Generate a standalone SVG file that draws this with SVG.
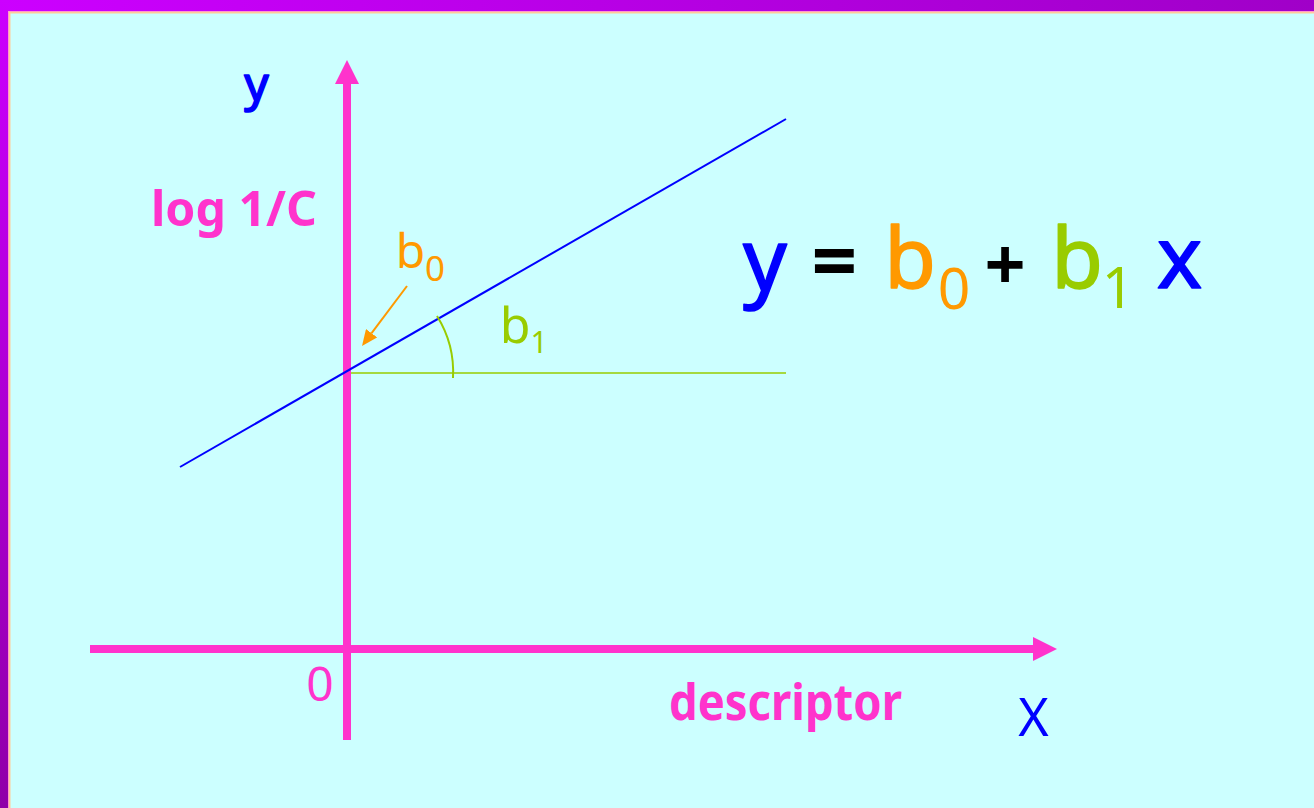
<svg xmlns="http://www.w3.org/2000/svg" width="1314" height="808" viewBox="0 0 1314 808">
<defs>
<linearGradient id="topband" x1="0" y1="0" x2="1" y2="0">
<stop offset="0" stop-color="#CC00FF"/>
<stop offset="1" stop-color="#A000C8"/>
</linearGradient>
<linearGradient id="leftband" x1="0" y1="0" x2="0" y2="1">
<stop offset="0" stop-color="#CC00FF"/>
<stop offset="1" stop-color="#9000A8"/>
</linearGradient>
<marker id="axisHead" viewBox="0 -12 24 24" refX="0" refY="0" markerWidth="24" markerHeight="24" markerUnits="userSpaceOnUse" orient="auto">
<path d="M0,-12 L24,0 L0,12 z" fill="#FF33CC"/>
</marker>
<marker id="orangeHead" viewBox="0 -7 16 14" refX="0" refY="0" markerWidth="16" markerHeight="14" markerUnits="userSpaceOnUse" orient="auto">
<path d="M0,-7 L16,0 L0,7 z" fill="#FF9900"/>
</marker>
</defs>
<style>
text { font-family: "Noto Sans", "Open Sans", "DejaVu Sans", sans-serif; }
.pink { fill: #FF33CC; }
.blue { fill: #0000FF; }
.orange { fill: #FF9900; }
.green { fill: #99CC00; }
.black { fill: #000000; }
.bold { font-weight: bold; }
.mid { text-anchor: middle; }
.thick { stroke-width: 1.6; stroke-linejoin: round; }
.blue.thick { stroke: #0000FF; }
.orange.thick { stroke: #FF9900; }
.green.thick { stroke: #99CC00; }
.axis { stroke: #FF33CC; stroke-width: 8; fill: none; }
</style>

<!-- frame -->
<rect x="0" y="0" width="1314" height="808" fill="#CCFFFF"/>
<rect x="0" y="0" width="1314" height="11" fill="url(#topband)"/>
<rect x="0" y="0" width="8" height="808" fill="url(#leftband)"/>
<rect x="8" y="11" width="1306" height="1" fill="#FF99CC"/>
<rect x="8" y="11" width="1" height="797" fill="#FF99CC"/>
<rect x="9" y="12" width="1305" height="1.5" fill="#FFCC99"/>
<rect x="9" y="12" width="1.5" height="796" fill="#FFCC99"/>

<g id="connectors">
<path id="y-axis" class="axis" d="M347,740 L347,84" marker-end="url(#axisHead)"/>
<path id="x-axis" class="axis" d="M90,649 L1033,649" marker-end="url(#axisHead)"/>
<line id="regression-line" x1="180" y1="467" x2="786" y2="119" stroke="#0000FF" stroke-width="2"/>
<line id="baseline" x1="351" y1="373" x2="786" y2="373" stroke="#99CC00" stroke-width="1.5"/>
<path id="slope-arc" d="M437,316 A106,106 0 0 1 453,378" fill="none" stroke="#99CC00" stroke-width="2"/>
<path id="b0-arrow" d="M407,286 L371.6,333.2" stroke="#FF9900" stroke-width="2" fill="none" marker-end="url(#orangeHead)"/>
</g>

<g id="label-y">
<text class="blue mid thick" x="256.5" y="100.5" font-size="48">y</text>
</g>
<g id="label-log1C">
<text class="pink bold" x="151" y="226" font-size="48" textLength="166" lengthAdjust="spacingAndGlyphs">log 1/C</text>
</g>
<g id="label-b0">
<text class="orange mid" x="410.5" y="268" font-size="48">b</text>
<text class="orange mid" x="435" y="281" font-size="35">0</text>
</g>
<g id="label-b1">
<text class="green mid" x="515" y="343" font-size="50">b</text>
<text class="green mid" x="539" y="353" font-size="30">1</text>
</g>
<g id="label-origin">
<text class="pink mid" x="320" y="701" font-size="48">0</text>
</g>
<g id="label-descriptor">
<text class="pink bold" x="669" y="720" font-size="50" textLength="233" lengthAdjust="spacingAndGlyphs">descriptor</text>
</g>
<g id="label-X">
<text class="blue mid" x="1033.5" y="736" font-size="52">X</text>
</g>
<g id="equation">
<text class="blue mid thick" x="765" y="290" font-size="86">y</text>
<text class="black mid bold" x="834.5" y="290" font-size="80">=</text>
<text class="orange mid thick" x="910" y="288" font-size="84">b</text>
<text class="orange mid" x="954" y="309" font-size="57">0</text>
<text class="black mid bold" x="1005" y="290" font-size="72">+</text>
<text class="green mid thick" x="1077" y="288" font-size="84">b</text>
<text class="green mid" x="1118" y="308" font-size="57">1</text>
<text class="blue mid thick" x="1179.5" y="288" font-size="86">x</text>
</g>
</svg>
